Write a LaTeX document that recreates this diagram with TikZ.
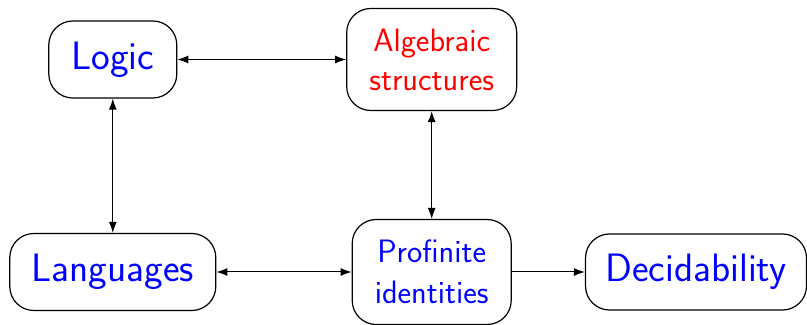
\documentclass[tikz,border=0pt]{standalone}
\usetikzlibrary{arrows.meta}
\definecolor{textblue}{RGB}{0,0,255}
\definecolor{textred}{RGB}{255,0,0}
\begin{document}
\begin{tikzpicture}[x=0.5pt,y=-0.5pt,
  box/.style={draw=black, line width=0.6pt, rounded corners=12pt,
    fill=white, inner sep=0pt, align=center, font=\sffamily},
  bigtext/.style={font=\sffamily\fontsize{19.8}{23.8}\selectfont},
  smalltext/.style={font=\sffamily\fontsize{16.2}{19.4}\selectfont},
  link/.style={line width=0.5pt, {Latex[length=5.5pt,width=4pt]}-{Latex[length=5.5pt,width=4pt]}},
  onelink/.style={line width=0.5pt, -{Latex[length=5.5pt,width=4pt]}}
]
\useasboundingbox (0,0) rectangle (807,325);

% concept boxes
\node[box, bigtext, text=textblue, minimum width=64pt, minimum height=38.5pt]
  (logic) at (112.8,59.5) {Logic};
\node[box, smalltext, text=textred, minimum width=85pt, minimum height=51pt]
  (alg) at (431.7,59.5) {Algebraic\\structures};
\node[box, bigtext, text=textblue, minimum width=103pt, minimum height=38.5pt]
  (lang) at (112.8,272) {Languages};
\node[box, smalltext, text=textblue, minimum width=79.5pt, minimum height=52.5pt]
  (prof) at (431.7,272) {Profinite\\[1.1pt]identities};
\node[box, bigtext, text=textblue, minimum width=110.5pt, minimum height=38pt]
  (dec) at (696,272) {Decidability};

% connections
\draw[link] (logic.east) -- (alg.west);
\draw[link] (logic.south) -- (lang.north);
\draw[link] (alg.south) -- (prof.north);
\draw[link] (lang.east) -- (prof.west);
\draw[onelink] (prof.east) -- (dec.west);
\end{tikzpicture}
\end{document}
